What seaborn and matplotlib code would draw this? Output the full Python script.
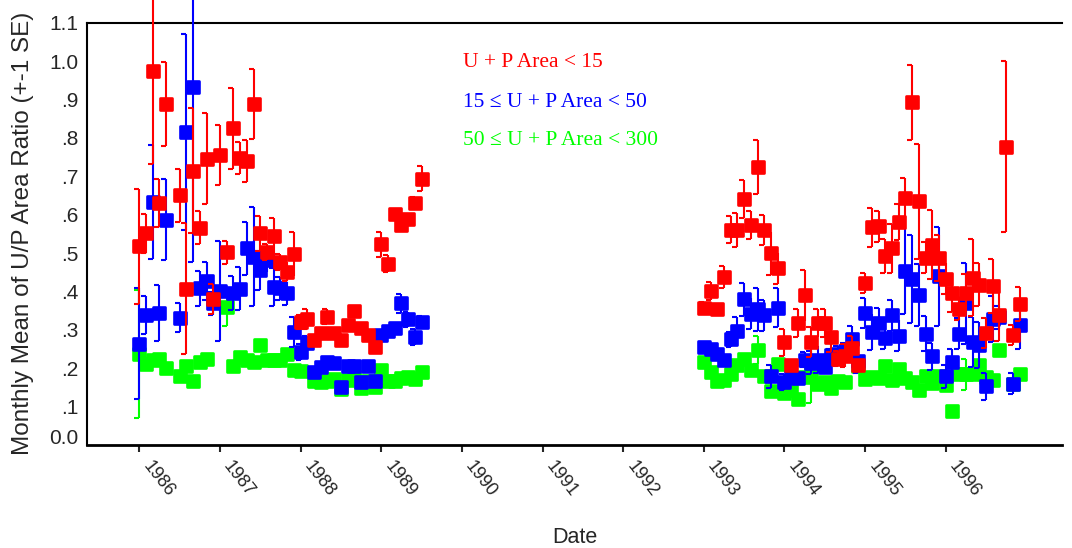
import matplotlib
matplotlib.use("Agg")
import matplotlib.pyplot as plt
import matplotlib.transforms as mtransforms
import numpy as np
import pandas as pd
import seaborn as sns

# ---------------- data (month index counted from January 1986) ----------------
red_month = [0, 1, 2, 3, 4, 6, 7, 8, 9, 10, 11, 12, 13, 14, 15, 16, 17, 18, 19, 20, 21,
             22, 23, 24, 25, 26, 27, 28, 29, 30, 31, 32, 33, 34, 35, 36, 37, 38, 39, 40, 41, 42,
             84, 85, 86, 87, 88, 89, 90, 91, 92, 93, 94, 95, 96, 97, 98, 99, 100, 101, 102,
             103, 104, 105, 106, 107, 108, 109, 110, 111, 112, 113, 114, 115, 116, 117, 118,
             119, 120, 121, 122, 123, 124, 125, 126, 127, 128, 129, 130, 131]
red_mean = [0.518, 0.551, 0.973, 0.631, 0.888, 0.651, 0.407, 0.715, 0.566, 0.746, 0.380,
            0.756, 0.502, 0.825, 0.747, 0.740, 0.888, 0.551, 0.503, 0.544, 0.477, 0.451,
            0.497, 0.320, 0.328, 0.273, 0.291, 0.334, 0.292, 0.274, 0.312, 0.348, 0.306,
            0.286, 0.254, 0.523, 0.472, 0.603, 0.573, 0.588, 0.631, 0.694,
            0.358, 0.401, 0.353, 0.438, 0.561, 0.561, 0.640, 0.573, 0.725, 0.560, 0.499,
            0.460, 0.268, 0.208, 0.318, 0.390, 0.268, 0.318, 0.318, 0.281, 0.225, 0.232,
            0.253, 0.208, 0.422, 0.567, 0.570, 0.493, 0.512, 0.581, 0.644, 0.893, 0.635,
            0.488, 0.522, 0.488, 0.433, 0.396, 0.355, 0.396, 0.436, 0.418, 0.292, 0.414,
            0.338, 0.777, 0.286, 0.368]
red_se = [0.15, 0.05, 0.24, 0.062, 0.11, 0.069, 0.17, 0.163, 0.043, 0.118, 0.04, 0.078,
          0.03, 0.106, 0.042, 0.054, 0.092, 0.045, 0.02, 0.047, 0.02, 0.025, 0.058, 0.018,
          0.025, 0.01, 0.01, 0.02, 0.01, 0.01, 0.01, 0.01, 0.01, 0.01, 0.01, 0.033, 0.022,
          0.01, 0.015, 0.015, 0.015, 0.033,
          0.015, 0.024, 0.012, 0.028, 0.035, 0.044, 0.05, 0.037, 0.07, 0.04, 0.055, 0.04,
          0.035, 0.01, 0.037, 0.067, 0.04, 0.037, 0.037, 0.04, 0.02, 0.03, 0.03, 0.01,
          0.027, 0.05, 0.04, 0.044, 0.063, 0.048, 0.052, 0.098, 0.15, 0.04, 0.09, 0.06,
          0.04, 0.05, 0.03, 0.05, 0.1, 0.055, 0.04, 0.07, 0.067, 0.222, 0.026, 0.044]

blue_month = [0, 1, 2, 3, 4, 6, 7, 8, 9, 10, 11, 12, 14, 15, 16, 17, 18, 19, 20, 21, 22,
              23, 24, 25, 26, 27, 28, 29, 30, 31, 32, 33, 34, 35, 36, 37, 38, 39, 40, 41, 42,
              84, 85, 86, 87, 88, 89, 90, 91, 92, 93, 94, 95, 96, 97, 98, 99, 100, 101, 102,
              103, 104, 105, 106, 107, 108, 109, 110, 111, 112, 113, 114, 115, 116, 117, 118,
              119, 120, 121, 122, 123, 124, 125, 126, 127, 128, 130, 131]
blue_mean = [0.264, 0.338, 0.633, 0.344, 0.587, 0.332, 0.815, 0.932, 0.408, 0.427, 0.369,
             0.401, 0.396, 0.407, 0.512, 0.491, 0.455, 0.481, 0.412, 0.408, 0.395, 0.294,
             0.242, 0.265, 0.190, 0.202, 0.216, 0.214, 0.150, 0.205, 0.205, 0.163, 0.205,
             0.168, 0.286, 0.297, 0.305, 0.369, 0.327, 0.281, 0.320,
             0.255, 0.250, 0.236, 0.221, 0.275, 0.297, 0.380, 0.342, 0.353, 0.338, 0.179,
             0.358, 0.164, 0.177, 0.175, 0.222, 0.214, 0.222, 0.202, 0.235, 0.238, 0.245,
             0.276, 0.218, 0.344, 0.295, 0.318, 0.280, 0.338, 0.285, 0.453, 0.433, 0.391,
             0.290, 0.231, 0.439, 0.179, 0.215, 0.290, 0.369, 0.268, 0.260, 0.153, 0.329,
             0.333, 0.160, 0.312]
blue_se = [0.145, 0.05, 0.148, 0.072, 0.105, 0.038, 0.255, 0.455, 0.046, 0.05, 0.03, 0.13,
           0.044, 0.056, 0.068, 0.13, 0.05, 0.03, 0.05, 0.03, 0.03, 0.04, 0.02, 0.02, 0.01,
           0.01, 0.01, 0.01, 0.01, 0.01, 0.01, 0.01, 0.01, 0.01, 0.01, 0.01, 0.01, 0.025,
           0.02, 0.02, 0.015,
           0.01, 0.01, 0.01, 0.01, 0.02, 0.037, 0.043, 0.04, 0.055, 0.04, 0.03, 0.05, 0.02,
           0.01, 0.015, 0.02, 0.03, 0.035, 0.015, 0.015, 0.02, 0.02, 0.035, 0.03, 0.04,
           0.047, 0.04, 0.03, 0.04, 0.04, 0.112, 0.115, 0.08, 0.045, 0.035, 0.13, 0.03,
           0.036, 0.04, 0.105, 0.065, 0.06, 0.035, 0.06, 0.03, 0.028, 0.062]

green_month = [0, 1, 2, 3, 4, 6, 7, 8, 9, 10, 13, 14, 15, 16, 17, 18, 19, 20, 21, 22, 23,
               24, 26, 27, 28, 29, 30, 31, 32, 33, 34, 35, 36, 37, 38, 39, 40, 41, 42,
               84, 85, 86, 87, 88, 89, 90, 91, 92, 93, 94, 95, 96, 97, 98, 99, 100, 101,
               102, 103, 104, 105, 107, 108, 109, 110, 111, 112, 113, 114, 115, 116, 117,
               118, 119, 120, 121, 122, 123, 124, 125, 126, 127, 128, 130, 131]
green_mean = [0.238, 0.210, 0.222, 0.225, 0.201, 0.180, 0.206, 0.168, 0.217, 0.223, 0.360,
              0.206, 0.228, 0.222, 0.216, 0.261, 0.222, 0.222, 0.222, 0.237, 0.195, 0.194,
              0.168, 0.164, 0.168, 0.173, 0.147, 0.169, 0.176, 0.149, 0.168, 0.150, 0.195,
              0.168, 0.167, 0.174, 0.177, 0.173, 0.191,
              0.216, 0.190, 0.168, 0.170, 0.186, 0.208, 0.225, 0.195, 0.248, 0.179, 0.141,
              0.210, 0.135, 0.142, 0.121, 0.177, 0.186, 0.158, 0.164, 0.148, 0.168, 0.164,
              0.205, 0.172, 0.176, 0.174, 0.207, 0.169, 0.198, 0.174, 0.164, 0.142, 0.180,
              0.162, 0.180, 0.155, 0.088, 0.184, 0.184, 0.184, 0.208, 0.177, 0.170, 0.248,
              0.160, 0.184]
green_se = [0.167, 0.01, 0.01, 0.01, 0.01, 0.01, 0.01, 0.01, 0.01, 0.01, 0.05, 0.01, 0.01,
            0.01, 0.01, 0.012, 0.01, 0.01, 0.01, 0.01, 0.01, 0.01, 0.01, 0.01, 0.01, 0.01,
            0.01, 0.01, 0.01, 0.01, 0.01, 0.01, 0.01, 0.01, 0.01, 0.01, 0.01, 0.01, 0.01,
            0.01, 0.01, 0.01, 0.01, 0.01, 0.01, 0.01, 0.01, 0.037, 0.01, 0.01, 0.01, 0.01,
            0.01, 0.01, 0.01, 0.077, 0.01, 0.01, 0.01, 0.01, 0.01, 0.01, 0.01, 0.01, 0.01,
            0.01, 0.01, 0.01, 0.01, 0.01, 0.01, 0.01, 0.01, 0.01, 0.01, 0.01, 0.01, 0.04,
            0.01, 0.01, 0.01, 0.01, 0.01, 0.01, 0.01]

year_ticks = [1986, 1987, 1988, 1989, 1990, 1991, 1992, 1993, 1994, 1995, 1996]
y_ticks = [0.0, 0.1, 0.2, 0.3, 0.4, 0.5, 0.6, 0.7, 0.8, 0.9, 1.0, 1.1]
y_tick_labels = ["0.0", ".1", ".2", ".3", ".4", ".5", ".6", ".7", ".8", ".9", "1.0", "1.1"]
group_labels = ["U + P Area < 15", "15 \u2264 U + P Area < 50", "50 \u2264 U + P Area < 300"]

# ---------------- build table ----------------
def frame(month, mean, se, label):
    d = pd.DataFrame({"month": month, "mean": mean, "se": se})
    d["date"] = 1986 + d["month"] / 12.0
    d["group"] = label
    return d

df = pd.concat([frame(red_month, red_mean, red_se, group_labels[0]),
                frame(blue_month, blue_mean, blue_se, group_labels[1]),
                frame(green_month, green_mean, green_se, group_labels[2])],
               ignore_index=True)

colors = {group_labels[0]: "#ff0000", group_labels[1]: "#0000ff", group_labels[2]: "#00ff00"}

# ---------------- figure ----------------
sns.set_style("white")
plt.rcParams["font.family"] = ["Liberation Sans", "DejaVu Sans"]

W, H = 1072, 548
fig = plt.figure(figsize=(W / 100, H / 100), dpi=100)
L, R, T, B = 87, 1062, 22.7, 445
ax = fig.add_axes([L / W, 1 - B / H, (R - L) / W, (B - T) / H])

draw_order = [group_labels[2], group_labels[1], group_labels[0]]
for k, g in enumerate(draw_order):
    d = df[df["group"] == g]
    c = colors[g]
    z = 3 + 2 * k
    ax.vlines(d["date"], d["mean"] - d["se"], d["mean"] + d["se"], colors=c,
              linewidth=1.5, zorder=z, clip_on=False)
    ax.plot(d["date"], d["mean"] + d["se"], ls="none", marker=0, ms=3.5, mew=1.5,
            color=c, zorder=z, clip_on=False)
    ax.plot(d["date"], d["mean"] - d["se"], ls="none", marker=0, ms=3.5, mew=1.5,
            color=c, zorder=z, clip_on=False)
    sns.scatterplot(data=d, x="date", y="mean", color=c, marker="s", s=72,
                    edgecolor=c, linewidth=1.9, joinstyle="round", zorder=z + 1,
                    legend=False, ax=ax)

ax.set_xlim(1986 + (L - 139.3) / 80.64, 1986 + (R - 139.3) / 80.64)
ax.set_ylim(0, 1.1)

ax.set_xticks(year_ticks)
ax.set_xticklabels([str(y) for y in year_ticks], rotation=-52, ha="left", va="top",
                   fontsize=13)
ax.tick_params(axis="x", direction="out", length=5, width=1.5, pad=4, bottom=True)
ax.set_yticks(y_ticks)
ax.set_yticklabels(y_tick_labels, fontsize=15)
ax.tick_params(axis="y", length=0, pad=6)

# SigmaPlot style: the 0.0 label sits a little above its tick
zero_lab = ax.yaxis.get_major_ticks()[0].label1
zero_lab.set_transform(zero_lab.get_transform() + mtransforms.Affine2D().translate(0, 9))

for s in ["left", "top", "bottom"]:
    ax.spines[s].set_visible(True)
    ax.spines[s].set_color("black")
ax.spines["left"].set_linewidth(1.5)
ax.spines["top"].set_linewidth(1.5)
ax.spines["bottom"].set_linewidth(2.0)
ax.spines["right"].set_visible(False)
ax.grid(False)

ax.set_ylabel("Monthly Mean of U/P Area Ratio (+-1 SE)", fontsize=17.5)
ax.yaxis.set_label_coords((34 - L) / (R - L), 0.5)
ax.set_xlabel("Date", fontsize=15.5)
ax.xaxis.set_label_coords(0.5, (B - 527) / (B - T))

# colored group labels (legend-style text)
for lab, ybase in zip(group_labels, [66.7, 106.7, 145.0]):
    fig.text(463 / W, 1 - ybase / H, lab, color=colors[lab], fontsize=15.5,
             family=["Liberation Serif", "DejaVu Serif"], ha="left", va="baseline")

fig.savefig("out.png", dpi=100)
